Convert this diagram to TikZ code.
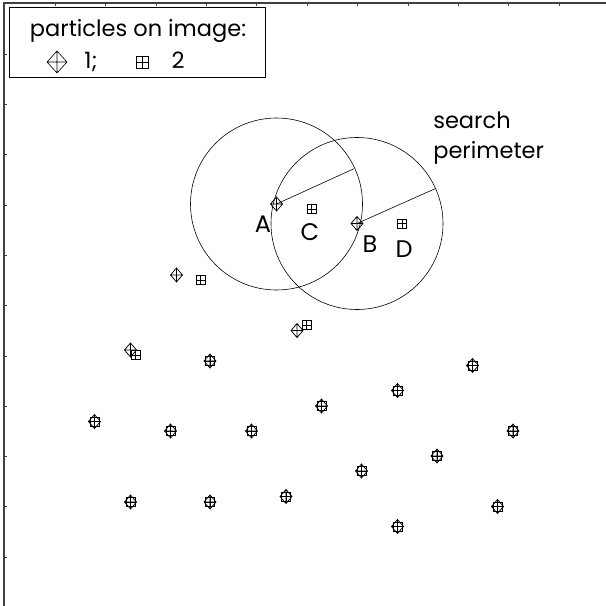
\documentclass[tikz,border=0pt]{standalone}
\usepackage{fontspec}
\setmainfont{Poppins}
\tikzset{
  pone/.pic={\draw (-6,0)--(0,-7)--(6,0)--(0,7)--cycle (-6,0)--(6,0) (0,-7)--(0,7);},
  ptwo/.pic={\draw (-4.5,-4.5) rectangle (4.5,4.5) (-4.5,0)--(4.5,0) (0,-4.5)--(0,4.5);},
  bigone/.pic={\draw (-10,0)--(0,-11)--(10,0)--(0,11)--cycle (-10,0)--(10,0) (0,-11)--(0,11);},
  bigtwo/.pic={\draw (-6,-6) rectangle (6,6) (-6,0)--(6,0) (0,-6)--(0,6);},
  txt/.style={font=\fontsize{22.5}{26}\selectfont, inner sep=0pt, anchor=base},
  letter/.style={txt, font=\fontsize{24}{26}\selectfont}
}
\begin{document}
\begin{tikzpicture}[x=1pt, y=-1pt, line width=0.6pt]
        \useasboundingbox (0,0) rectangle (606,606);
        \draw[line width=1.3pt, black!75] (606,3) -- (4,3) -- (4,606);
        \foreach \k in {0,...,10}{%
            \draw[black!75] (55+50.4*\k,3) -- ++(0,2.5);
            \draw[black!75] (4,54+50.3*\k) -- ++(2.5,0);
        }
        \draw (9.5,7) rectangle (265.5,77);
        \node[txt] (legtitle) at (138,36.5) {particles on image:};
        \pic at (57,62) {bigone};
        \node[txt] (legone) at (91,68.5) {1;};
        \pic at (142,62) {bigtwo};
        \node[txt] (legtwo) at (178,68.5) {2};
        \coordinate (pa) at (276.5,204);
        \coordinate (pb) at (357,223.5);
        \draw (pa) circle (86);
        \draw (pb) circle (86);
        \draw (pa) -- ++(-24.5:85) coordinate (ra);
        \draw (pb) -- ++(-24:86) coordinate (rb);
        \begin{scope}[line width=0.75pt]
        \pic at (pa) {pone};
        \pic at (pb) {pone};
        \pic at (311.5,209) {ptwo};
        \pic at (402,223.5) {ptwo};
        \pic at (176.5,275) {pone};
        \pic at (200.5,280) {ptwo};
        \pic at (297,330.5) {pone};
        \pic at (306.5,325) {ptwo};
        \pic at (130.5,350) {pone};
        \pic at (135.5,355) {ptwo};
        \foreach \x/\y in {210/361, 472.5/365.5, 397.5/390.5, 321.5/406, 94.5/421.5,
            170.5/431, 251.5/431, 513/431, 437/456, 361.5/471, 130.5/502,
            210/502, 286/496.5, 397.5/526.5, 497.5/506.5}{%
            \pic at (\x,\y) {pone};
            \pic at (\x,\y) {ptwo};
        }
        \end{scope}
        \node[letter] (labA) at (263,232) {A};
        \node[letter] (labC) at (310,240) {C};
        \node[letter] (labB) at (370,252) {B};
        \node[letter] (labD) at (404,257) {D};
        \node[txt, anchor=base west] (search) at (433,128.5) {search};
        \node[txt, anchor=base west] (perim) at (433,158) {perimeter};
    \end{tikzpicture}
\end{document}
